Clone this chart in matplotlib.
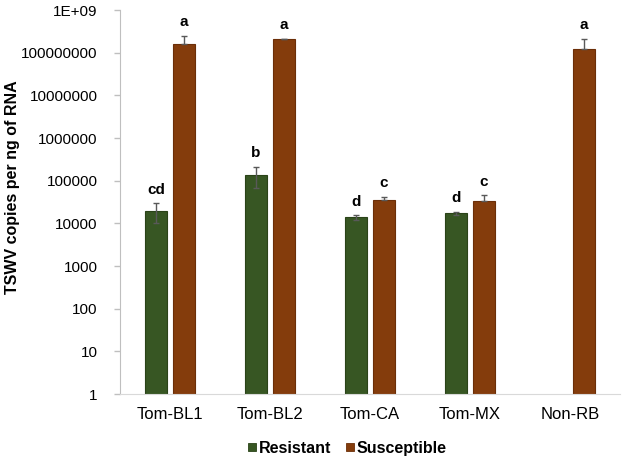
import numpy as np
import matplotlib
matplotlib.use("Agg")
import matplotlib.pyplot as plt
from matplotlib.patches import Rectangle
from matplotlib.ticker import FixedLocator, FuncFormatter

plt.rcParams['font.family'] = ['Liberation Sans', 'DejaVu Sans']

categories = ["Tom-BL1", "Tom-BL2", "Tom-CA", "Tom-MX", "Non-RB"]
resistant = [19800, 136000, 13800, 17200, np.nan]
resistant_err = [9500, 70000, 1500, 1600, np.nan]
susceptible = [162000000, 205000000, 34600, 34000, 120000000]
susceptible_err = [90000000, 3000000, 6000, 11000, 85000000]
resistant_letters = ["cd", "b", "d", "d", ""]
susceptible_letters = ["a", "a", "c", "c", "a"]

green = "#375623"
brown = "#843C0C"


def tick_fmt(v, pos):
    if v >= 1e9:
        return "1E+09"
    return "%d" % v


def main():
    fig = plt.figure(figsize=(6.24, 4.59), dpi=100)
    ax = fig.add_axes([0.1923, 0.1416, 0.8013, 0.8366])

    x = np.arange(len(categories))
    w = 0.215
    off = 0.14
    ekw = dict(ecolor="#595959", capsize=2.2, elinewidth=1, capthick=1)
    ax.bar(x - off, resistant, w, color=green, edgecolor="#2A4318", linewidth=0.8,
           yerr=resistant_err, error_kw=ekw, label="Resistant")
    # susceptible error bars only show the upper half
    s_err = [[0] * len(categories), susceptible_err]
    ax.bar(x + off, susceptible, w, color=brown, edgecolor="#6B2E08", linewidth=0.8,
           yerr=s_err, error_kw=ekw, label="Susceptible")

    ax.set_yscale("log")
    ax.set_ylim(1, 1e9)
    ax.set_xlim(-0.5, len(categories) - 0.5)
    ax.yaxis.set_major_locator(FixedLocator([10 ** i for i in range(10)]))
    ax.yaxis.set_minor_locator(FixedLocator([]))
    ax.yaxis.set_major_formatter(FuncFormatter(tick_fmt))

    for i in range(len(categories)):
        if resistant_letters[i]:
            top = resistant[i] + resistant_err[i]
            ax.text(x[i] - off, top * 1.45, resistant_letters[i], ha="center", va="bottom",
                    fontsize=11, fontweight="bold")
        if susceptible_letters[i]:
            top = susceptible[i] + susceptible_err[i]
            ax.text(x[i] + off, top * 1.45, susceptible_letters[i], ha="center", va="bottom",
                    fontsize=11, fontweight="bold")

    ax.set_xticks(x)
    ax.set_xticklabels(categories, fontsize=12)
    ax.tick_params(axis="x", length=0, pad=9)
    ax.tick_params(axis="y", labelsize=11, length=4, color="#BFBFBF", width=1, pad=12)
    fig.text(13 / 624, 1 - 187 / 459, "TSWV copies per ng of RNA", rotation=90,
             ha="center", va="center", fontsize=11.5, fontweight="bold")

    for s in ["top", "right"]:
        ax.spines[s].set_visible(False)
    ax.spines["left"].set_color("#BFBFBF")
    ax.spines["bottom"].set_color("#D9D9D9")

    # legend drawn by hand so both labels sit on one baseline
    W, H = 624.0, 459.0
    ly = 1 - 447 / H
    for x0, col, edge, name in [(248, green, "#2A4318", "Resistant"),
                                (346, brown, "#6B2E08", "Susceptible")]:
        fig.patches.append(Rectangle((x0 / W, ly - 4 / H), 8 / W, 8 / H, transform=fig.transFigure,
                                     facecolor=col, edgecolor=edge, linewidth=0.6))
        fig.text((x0 + 11) / W, ly, name, ha="left", va="center_baseline",
                 fontsize=11.5, fontweight="bold")

    fig.savefig("out.png", dpi=100)


if __name__ == '__main__':
    main()
